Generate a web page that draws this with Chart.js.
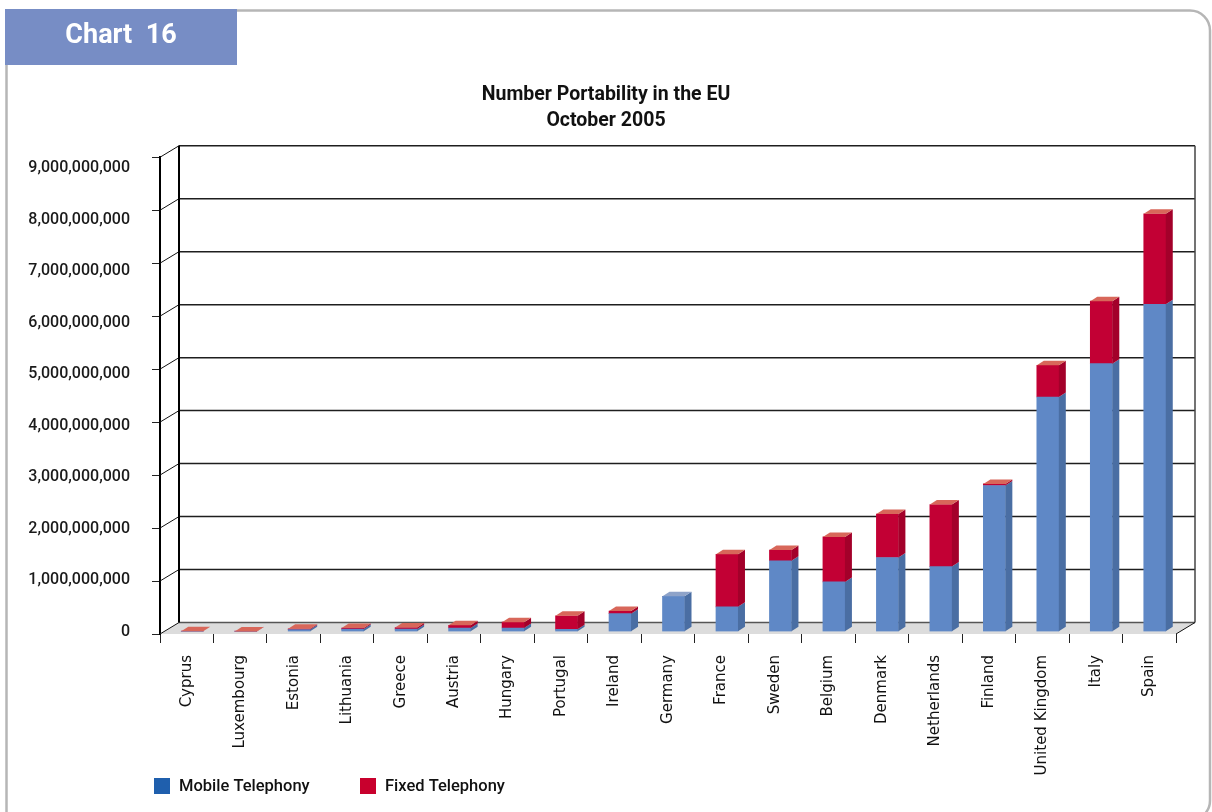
<!DOCTYPE html>
<html>
<head>
<meta charset="utf-8">
<title>Number Portability in the EU</title>
<script src="https://cdn.jsdelivr.net/npm/chart.js@4.4.1/dist/chart.umd.min.js"></script>
<style>
    html, body { margin: 0; padding: 0; background: #fff; }
    #wrap { position: relative; width: 1212px; height: 812px; }
</style>
</head>
<body>
<div id="wrap"><canvas id="barChart"></canvas></div>
<script>
const countries = ['Cyprus', 'Luxembourg', 'Estonia', 'Lithuania', 'Greece', 'Austria', 'Hungary', 'Portugal', 'Ireland',
    'Germany', 'France', 'Sweden', 'Belgium', 'Denmark', 'Netherlands', 'Finland', 'United Kingdom', 'Italy', 'Spain'];

const mobileTelephony = [0, 0, 40000000, 50000000, 50000000, 70000000, 70000000, 45000000, 340000000,
    670000000, 470000000, 1340000000, 940000000, 1400000000, 1230000000, 2760000000, 4430000000, 5060000000, 6180000000];

const fixedTelephony = [10000000, 5000000, 15000000, 20000000, 30000000, 50000000, 110000000, 255000000, 50000000,
    0, 990000000, 200000000, 850000000, 820000000, 1170000000, 30000000, 600000000, 1180000000, 1710000000];

const yTicks = [0, 1000000000, 2000000000, 3000000000, 4000000000, 5000000000, 6000000000, 7000000000, 8000000000, 9000000000];

const titleLines = ['Number Portability in the EU', 'October 2005'];
const chartTag = 'Chart  16';

// depth of the box the bars stand in, and of each bar
const wallDX = 19, wallDY = 11.5;
const barDX = 5.5, barDY = 2.3;
const sideDX = 7, sideDY = 4.5;

// frame, tab, back walls and floor
const framePlugin = {
    id: 'frame',
    beforeDraw(chart) {
        const ctx = chart.ctx;
        ctx.save();
        ctx.strokeStyle = '#b6b6b6';
        ctx.lineWidth = 2.5;
        ctx.beginPath();
        ctx.roundRect(6.5, 10.5, 1203.5, 810, [0, 20, 20, 0]);
        ctx.stroke();

        ctx.fillStyle = '#778dc5';
        ctx.fillRect(5, 9, 232, 56);
        ctx.fillStyle = '#ffffff';
        ctx.font = 'bold 27px Roboto';
        ctx.textAlign = 'center';
        ctx.textBaseline = 'middle';
        ctx.fillText(chartTag, 121, 36);
        ctx.restore();
    },
    beforeDatasetsDraw(chart) {
        const {ctx, chartArea: a, scales: {y}} = chart;
        const y0 = y.getPixelForValue(0);
        const yTop = y.getPixelForValue(yTicks[yTicks.length - 1]);
        ctx.save();

        // floor
        ctx.fillStyle = '#dcdcdc';
        ctx.beginPath();
        ctx.moveTo(a.left, y0);
        ctx.lineTo(a.left + wallDX, y0 - wallDY);
        ctx.lineTo(a.right + wallDX, y0 - wallDY);
        ctx.lineTo(a.right, y0);
        ctx.closePath();
        ctx.fill();

        // gridlines on the back wall, joined to the front axis ticks
        yTicks.forEach(v => {
            const py = y.getPixelForValue(v);
            ctx.strokeStyle = v === 0 ? '#555' : '#1e1e1e';
            ctx.lineWidth = 1.5;
            ctx.beginPath();
            ctx.moveTo(a.left + wallDX, py - wallDY);
            ctx.lineTo(a.right + wallDX, py - wallDY);
            ctx.stroke();
            ctx.strokeStyle = '#111';
            ctx.lineWidth = 1;
            ctx.beginPath();
            ctx.moveTo(a.left, py);
            ctx.lineTo(a.left + wallDX, py - wallDY);
            ctx.stroke();
        });

        ctx.strokeStyle = '#000';
        ctx.lineWidth = 2;
        ctx.beginPath();
        ctx.moveTo(a.left + wallDX, yTop - wallDY);
        ctx.lineTo(a.left + wallDX, y0 - wallDY);
        ctx.stroke();

        ctx.strokeStyle = '#444';
        ctx.lineWidth = 1.5;
        ctx.beginPath();
        ctx.moveTo(a.right + wallDX, yTop - wallDY);
        ctx.lineTo(a.right + wallDX, y0 - wallDY);
        ctx.stroke();

        ctx.strokeStyle = '#111';
        ctx.lineWidth = 1;
        ctx.beginPath();
        ctx.moveTo(a.right, y0);
        ctx.lineTo(a.right + wallDX, y0 - wallDY);
        ctx.stroke();
        ctx.restore();

        // bars sit a little behind the front plane
        ctx.save();
        ctx.translate(barDX, -barDY);
    },
    afterDatasetsDraw(chart) {
        const ctx = chart.ctx;
        const metas = chart.getSortedVisibleDatasetMetas();
        countries.forEach((c, i) => {
            let topIdx = -1;
            metas.forEach((m, k) => {
                if (chart.data.datasets[m.index].data[i] > 0) topIdx = k;
            });
            metas.forEach((m, k) => {
                const ds = chart.data.datasets[m.index];
                const {x, y, base, width} = m.data[i].getProps(['x', 'y', 'base', 'width'], true);
                const l = x - width / 2, r = x + width / 2;
                if (ds.data[i] > 0) {
                    ctx.fillStyle = ds.sideColor;
                    ctx.beginPath();
                    ctx.moveTo(r, y);
                    ctx.lineTo(r + sideDX, y - sideDY);
                    ctx.lineTo(r + sideDX, base - sideDY);
                    ctx.lineTo(r, base);
                    ctx.closePath();
                    ctx.fill();
                }
                if (k === topIdx) {
                    ctx.fillStyle = ds.topColor;
                    ctx.beginPath();
                    ctx.moveTo(l, y);
                    ctx.lineTo(l + sideDX, y - sideDY);
                    ctx.lineTo(r + sideDX, y - sideDY);
                    ctx.lineTo(r, y);
                    ctx.closePath();
                    ctx.fill();
                }
            });
        });
        ctx.restore();
    },
    afterDraw(chart) {
        // legend along the bottom
        const ctx = chart.ctx;
        const itemX = [154, 360];
        ctx.save();
        ctx.font = '500 16.5px Roboto';
        ctx.textBaseline = 'middle';
        ctx.textAlign = 'left';
        chart.data.datasets.forEach((ds, k) => {
            ctx.fillStyle = ds.legendColor;
            ctx.fillRect(itemX[k], 778, 16, 16);
            ctx.fillStyle = '#111';
            ctx.fillText(ds.label, itemX[k] + 25, 787);
        });
        ctx.restore();
    }
};

const ctx = document.getElementById('barChart');
const myChart = new Chart(ctx, {
    type: 'bar',
    data: {
        labels: countries,
        datasets: [{
            label: 'Mobile Telephony',
            data: mobileTelephony,
            backgroundColor: '#5f88c6',
            sideColor: '#4a6ea3',
            topColor: '#8ea3c9',
            legendColor: '#1f5fad',
            barThickness: 22,
            borderWidth: 0
        }, {
            label: 'Fixed Telephony',
            data: fixedTelephony,
            backgroundColor: '#c20034',
            sideColor: '#a3002a',
            topColor: '#d8675a',
            legendColor: '#c8002d',
            barThickness: 22,
            borderWidth: 0
        }]
    },
    plugins: [framePlugin],
    options: {
        responsive: true,
        maintainAspectRatio: false,
        animation: false,
        layout: {
            padding: 0
        },
        plugins: {
            legend: { display: false },
            tooltip: { enabled: false },
            title: {
                display: true,
                text: titleLines,
                color: '#111',
                font: { family: 'Roboto', size: 19.5, weight: 'bold', lineHeight: 1.34 },
                padding: { top: 82, bottom: 23 }
            }
        },
        scales: {
            x: {
                stacked: true,
                border: { display: false },
                grid: {
                    offset: true,
                    drawOnChartArea: false,
                    drawTicks: true,
                    tickLength: 9,
                    color: '#222'
                },
                ticks: {
                    autoSkip: false,
                    minRotation: 90,
                    maxRotation: 90,
                    padding: 12,
                    color: '#111',
                    font: { family: 'DejaVu Sans', size: 15 }
                },
                afterFit: axis => { axis.height = 178; }
            },
            y: {
                stacked: true,
                min: 0,
                max: 9000000000,
                weight: 0,
                border: { display: true, color: '#000', width: 2 },
                grid: {
                    drawOnChartArea: false,
                    drawTicks: true,
                    tickLength: 8,
                    color: '#222'
                },
                ticks: { stepSize: 1000000000, display: false },
                afterFit: axis => { axis.width = 8; }
            },
            // value labels, spaced the way the original printout spaces them
            yLabels: {
                position: 'left',
                weight: 1,
                min: -44640000,
                max: 9213500000,
                border: { display: false },
                grid: { display: false },
                afterBuildTicks: axis => { axis.ticks = yTicks.map(v => ({ value: v })); },
                ticks: {
                    padding: 14,
                    color: '#1a1a1a',
                    font: { family: 'Roboto', size: 16, weight: '500' },
                    callback: value => Number(value).toLocaleString('en-US')
                },
                afterFit: axis => { axis.width = 152; }
            },
            // empty strip on the right that leaves room for the depth of the box
            depthRoom: {
                position: 'right',
                border: { display: false },
                grid: { display: false },
                ticks: { display: false },
                afterFit: axis => { axis.width = 36; }
            }
        }
    }
});
</script>
</body>
</html>
